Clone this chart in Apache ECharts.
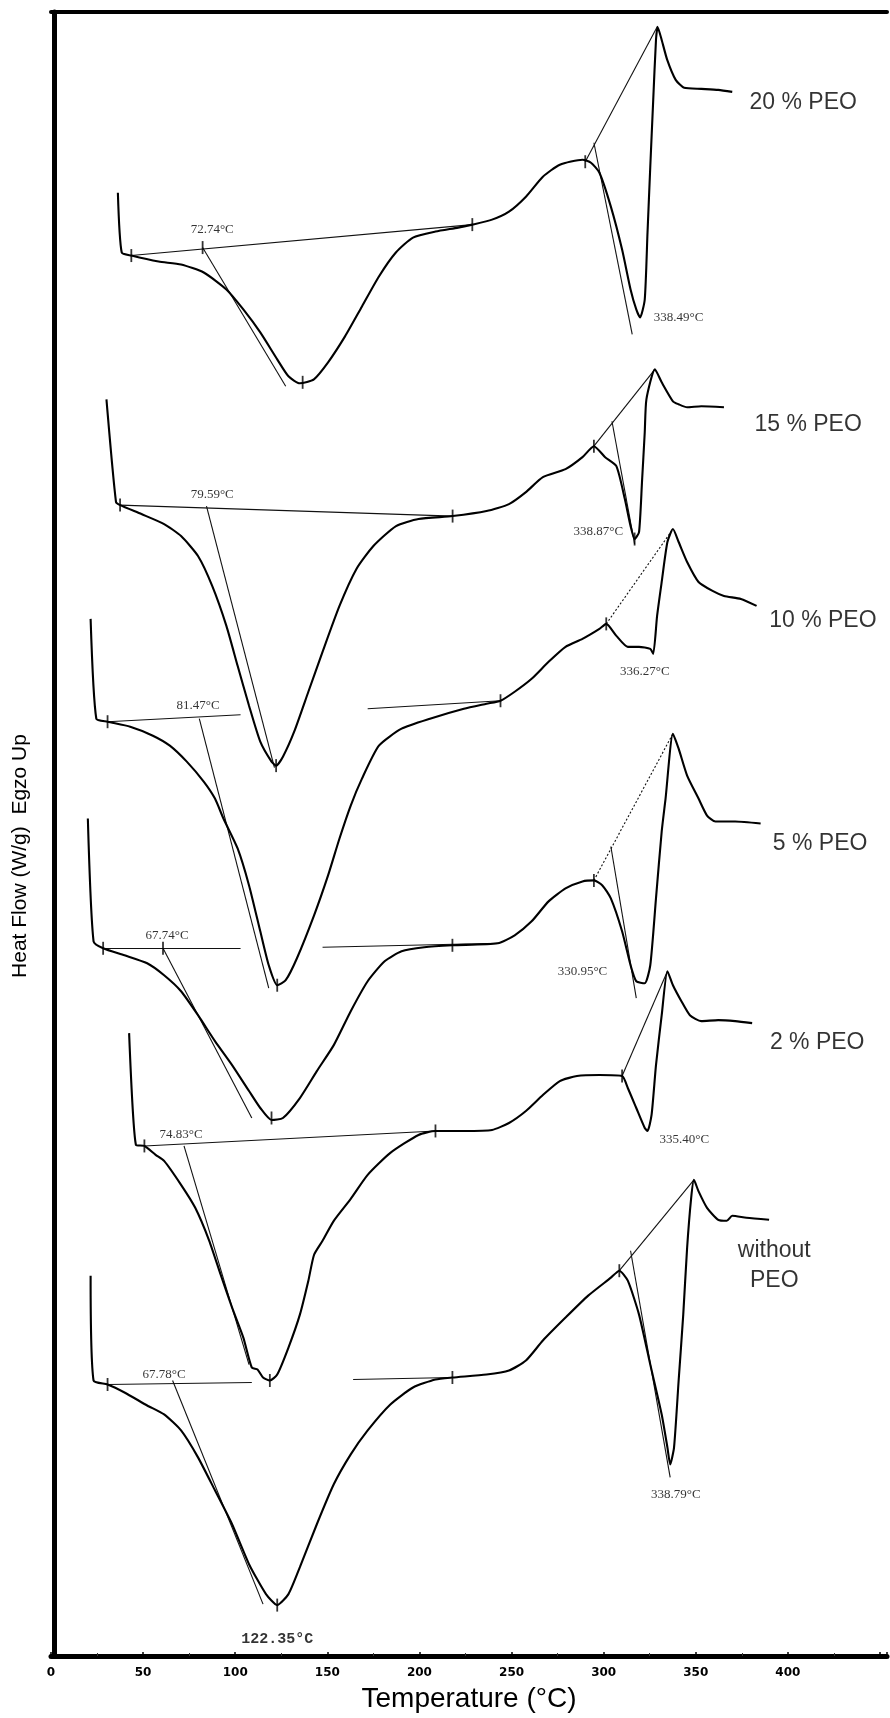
<!DOCTYPE html>
<html>
<head>
<meta charset="utf-8">
<title>DSC - PEO</title>
<script src="https://cdn.jsdelivr.net/npm/echarts/dist/echarts.min.js"></script>
<style>
  html, body { margin: 0; padding: 0; background: #fff; }
  #main { width: 890px; height: 1718px; }
</style>
</head>
<body>
<div id="main"></div>
<script>
// x = temperature (°C), y = heat flow (arbitrary units, curves stacked)
const tickLabels = [0, 50, 100, 150, 200, 250, 300, 350, 400];

const peo20 = [[36.3,146.6],[38.4,140.6],[43.6,140.3],[58.4,139.7],[70.6,139.4],[82.9,138.6],[95.2,136.9],[104.4,134.9],[113.6,132.6],[122.8,129.9],[128.9,128.2],[135.1,127.5],[142.7,127.9],[150.4,129.6],[159.6,132.2],[168.8,135.2],[178.0,138.2],[187.2,140.6],[196.5,142.1],[208.7,142.7],[221.0,143.1],[228.7,143.4],[239.4,143.9],[248.6,144.7],[257.8,146.2],[267.0,148.2],[276.2,149.4],[288.5,149.9],[293.1,149.6],[297.7,148.6],[303.9,145.2],[310.0,140.9],[314.6,136.9],[317.7,134.9],[319.8,134.1],[322.3,135.9],[323.8,142.6],[325.3,149.2],[326.9,155.9],[328.4,161.9],[329.3,163.2],[331.5,161.9],[334.5,159.9],[339.1,157.9],[343.7,157.1],[353.0,157.0],[362.2,156.9],[369.8,156.7]];

const peo15 = [[30.1,125.9],[35.3,115.6],[37.5,115.3],[49.1,114.4],[61.4,113.4],[70.6,112.2],[79.8,110.2],[87.5,107.2],[95.2,103.2],[101.3,99.2],[107.5,95.2],[113.6,91.6],[119.7,89.6],[122.2,89.2],[125.9,90.1],[132.0,92.6],[139.7,96.6],[147.4,100.6],[156.6,105.2],[165.8,108.9],[175.0,111.2],[187.3,113.2],[199.5,113.9],[218.0,114.2],[236.4,114.7],[248.6,115.4],[257.8,116.6],[267.0,118.1],[279.3,118.9],[288.5,120.1],[294.7,121.2],[300.8,120.1],[306.9,119.2],[311.5,115.9],[314.6,113.2],[316.8,111.9],[319.2,112.6],[320.8,117.6],[322.3,122.6],[323.2,125.9],[327.8,128.9],[331.5,127.6],[337.6,125.7],[340.7,125.4],[345.3,125.1],[353.0,125.2],[365.3,125.1]];

const peo10 = [[21.5,103.9],[24.6,93.9],[30.7,93.6],[43.0,93.1],[55.3,92.2],[64.5,91.2],[73.7,89.6],[82.9,87.6],[89.0,85.9],[93.6,83.9],[101.3,80.9],[107.5,77.2],[113.6,72.6],[118.2,69.2],[122.8,67.2],[127.4,67.7],[133.5,69.9],[142.8,74.2],[150.4,78.2],[156.6,81.9],[162.7,85.2],[168.8,87.9],[178.0,91.2],[190.3,92.9],[205.7,93.9],[224.1,94.9],[236.4,95.4],[244.0,95.7],[251.7,96.6],[260.9,97.9],[270.1,99.6],[279.3,101.1],[288.5,101.9],[297.7,102.9],[301.4,103.4],[306.9,102.2],[313.1,101.1],[319.2,101.1],[325.3,100.9],[326.9,100.4],[329.0,104.2],[331.5,107.6],[334.6,111.6],[337.6,112.9],[340.7,111.6],[345.3,109.6],[351.5,107.6],[359.1,106.7],[365.3,106.2],[374.5,105.9],[383.0,105.2]];

const peo5 = [[20.0,83.9],[23.1,71.6],[28.3,70.9],[39.9,70.2],[52.2,69.4],[61.4,68.2],[70.6,66.6],[79.8,64.2],[89.0,61.6],[98.3,59.2],[107.5,56.6],[113.6,54.9],[119.7,53.7],[125.9,53.9],[135.1,55.9],[144.3,58.6],[153.5,61.2],[162.7,64.6],[171.9,67.6],[181.1,69.6],[190.3,70.6],[202.6,71.0],[217.9,71.2],[242.5,71.4],[251.7,72.2],[260.9,73.6],[270.1,75.6],[279.3,76.9],[288.5,77.6],[294.7,77.7],[299.3,77.2],[303.9,75.9],[310.0,72.6],[314.6,69.2],[317.7,67.6],[322.3,67.4],[325.3,69.2],[328.4,75.9],[331.5,82.6],[333.6,85.9],[337.6,92.4],[340.7,90.9],[345.3,88.2],[351.5,85.9],[356.1,84.2],[360.7,83.6],[371.4,83.6],[385.2,83.4]];

const peo2 = [[42.4,62.4],[46.1,51.2],[50.7,51.1],[56.8,50.2],[61.4,49.6],[70.6,47.2],[78.3,44.9],[85.9,41.6],[92.1,38.2],[98.3,34.9],[104.4,31.9],[109.0,28.9],[112.1,28.7],[115.1,27.9],[118.8,27.6],[122.8,28.2],[128.9,30.9],[135.1,34.2],[139.7,37.6],[142.8,40.2],[147.4,41.6],[153.5,43.6],[162.7,45.8],[171.9,48.2],[184.2,50.4],[199.5,52.2],[208.7,52.6],[224.1,52.6],[239.4,52.7],[248.6,53.4],[257.8,54.6],[267.0,56.2],[276.2,57.6],[285.5,58.1],[297.7,58.2],[310.0,58.1],[313.1,56.9],[317.7,54.9],[322.3,52.9],[323.8,52.6],[326.0,54.2],[328.4,59.2],[331.5,64.2],[334.6,68.6],[337.6,67.2],[342.2,65.6],[346.8,64.2],[353.0,63.6],[362.2,63.7],[371.4,63.6],[380.6,63.4]];

const peo0 = [[21.5,38.1],[23.1,27.6],[30.7,27.2],[39.9,26.4],[52.2,25.1],[61.4,24.2],[70.6,22.6],[79.8,19.9],[89.0,16.6],[98.3,13.2],[107.5,9.2],[116.7,6.2],[122.8,5.1],[128.9,6.2],[135.1,8.9],[144.3,13.2],[153.5,17.2],[162.7,20.2],[171.9,22.6],[184.2,25.2],[196.5,26.9],[208.7,27.7],[217.9,27.9],[236.4,28.2],[248.6,28.6],[257.8,29.6],[267.0,31.6],[279.3,33.9],[291.6,36.1],[303.9,37.9],[308.5,38.6],[313.1,37.6],[319.2,34.2],[325.3,29.2],[331.5,24.2],[334.6,20.9],[336.1,19.2],[338.2,20.9],[340.7,27.6],[343.2,34.2],[345.3,40.9],[347.5,45.9],[349.0,47.7],[351.4,46.6],[356.1,44.9],[362.2,43.7],[366.8,43.6],[369.8,44.1],[377.5,43.9],[389.8,43.7]];

// baselines and tangent construction lines
const guides20 = [[[43.6,140.3],[228.7,143.4]], [[82.3,141.1],[127.4,127.2]], [[290.0,149.7],[329.3,163.3]], [[294.7,151.6],[315.5,132.4]]];
const guides15 = [[[37.5,115.3],[218.0,114.2]], [[84.4,115.2],[121.3,89.0]], [[294.7,121.2],[327.8,128.9]], [[304.5,123.7],[316.8,111.4]]];
const guides10 = [[[30.7,93.6],[102.9,94.3]], [[171.9,94.9],[244.0,95.7]], [[80.5,93.9],[118.2,66.9]]];
const guides5 = [[[28.3,70.9],[102.9,70.9]], [[147.4,71.0],[242.5,71.4]], [[60.8,70.9],[109.0,53.9]], [[303.9,81.1],[317.7,65.9]]];
const guides2 = [[[50.7,51.1],[208.7,52.6]], [[72.2,51.1],[107.5,29.2]], [[310.0,58.1],[334.6,68.6]]];
const guides0 = [[[30.7,27.2],[109.0,27.4]], [[164.0,27.7],[217.9,27.9]], [[66.0,27.6],[115.1,5.2]], [[308.5,38.6],[349.0,47.7]], [[314.6,40.6],[336.1,17.9]]];
const dottedGuides = [[[301.4,103.4],[337.6,112.9]], [[294.7,77.7],[337.6,92.4]]];

const crossMarks = [[43.6,140.3],[82.3,141.1],[136.6,127.6],[228.7,143.4],[290.0,149.7],
  [37.5,115.3],[122.2,89.2],[218.0,114.2],[294.7,121.2],[316.8,111.9],
  [30.7,93.6],[122.8,67.2],[244.0,95.7],[301.4,103.4],
  [28.3,70.9],[60.8,70.9],[119.7,53.9],[217.9,71.2],[294.7,77.7],
  [50.7,51.1],[118.8,27.6],[208.7,52.6],[310.0,58.1],
  [30.7,27.2],[122.8,5.1],[217.9,27.9],[308.5,38.6]];

const peakLabels = ['72.74°C', '338.49°C', '79.59°C', '338.87°C', '81.47°C', '336.27°C', '67.74°C', '330.95°C', '74.83°C', '335.40°C', '67.78°C', '338.79°C'];
const peakLabelPos = [[87.5,142.9],[340.7,134.1],[87.5,116.4],[297.1,112.6],[79.8,95.2],[322.3,98.6],[63.0,72.2],[288.5,68.6],[70.6,52.2],[343.8,51.7],[61.4,28.2],[339.2,16.2]];

const sampleNames = ['20 % PEO', '15 % PEO', '10 % PEO', '5 % PEO', '2 % PEO', 'without\nPEO'];
const samplePos = [[408.3,155.6],[411.0,123.4],[419.0,103.7],[417.5,81.4],[415.9,61.4],[392.6,39.1]];

let chart = echarts.init(document.getElementById('main'));

let curves = [peo20, peo15, peo10, peo5, peo2, peo0];
let series = curves.map(function (d, i) {
  return {
    name: sampleNames[i],
    type: 'line',
    data: d,
    showSymbol: false,
    smooth: 0.2,
    silent: true,
    lineStyle: { color: '#000', width: 2.1 }
  };
});

let guideData = [].concat(guides20, guides15, guides10, guides5, guides2, guides0).map(function (c) {
  return { coords: c };
});
dottedGuides.forEach(function (c) {
  guideData.push({ coords: c, lineStyle: { type: [2, 2] } });
});

series.push({
  type: 'lines',
  coordinateSystem: 'cartesian2d',
  data: guideData,
  silent: true,
  lineStyle: { color: '#111', width: 1.1, opacity: 1 }
});

series.push({
  type: 'scatter',
  data: crossMarks,
  symbol: 'rect',
  symbolSize: [1.8, 13],
  silent: true,
  itemStyle: { color: '#000' }
});

series.push({
  type: 'scatter',
  symbolSize: 0,
  silent: true,
  data: peakLabels.map(function (t, i) { return { name: t, value: peakLabelPos[i] }; }),
  label: {
    show: true,
    position: [0, 0],
    align: 'center',
    verticalAlign: 'middle',
    formatter: '{b}',
    fontFamily: 'Liberation Serif',
    fontSize: 13,
    color: '#000'
  }
});

series.push({
  type: 'scatter',
  symbolSize: 0,
  silent: true,
  data: [{ name: '122.35°C', value: [122.8, 1.7] }],
  label: {
    show: true,
    position: [0, 0],
    align: 'center',
    verticalAlign: 'middle',
    formatter: '{b}',
    fontFamily: 'Liberation Mono',
    fontWeight: 'bold',
    fontSize: 15,
    color: '#000'
  }
});

series.push({
  type: 'scatter',
  symbolSize: 0,
  silent: true,
  data: sampleNames.map(function (t, i) { return { name: t, value: samplePos[i] }; }),
  label: {
    show: true,
    position: [0, 0],
    align: 'center',
    verticalAlign: 'middle',
    formatter: '{b}',
    fontFamily: 'Liberation Sans',
    fontSize: 23,
    lineHeight: 30,
    color: '#000'
  }
});

let option = {
  animation: false,
  backgroundColor: '#fff',
  grid: { left: 51, right: 0, top: 12, bottom: 59 },
  xAxis: [{
    type: 'value',
    min: 0,
    max: 453.8,
    interval: 50,
    name: 'Temperature (°C)',
    nameLocation: 'middle',
    nameGap: 29,
    nameTextStyle: { fontFamily: 'Liberation Sans', fontSize: 28, color: '#000' },
    axisLine: { lineStyle: { color: '#000', width: 5 } },
    axisTick: { inside: true, length: 4, lineStyle: { color: '#000', width: 1.5 } },
    minorTick: { show: true, splitNumber: 2, length: 3, lineStyle: { color: '#333' } },
    axisLabel: {
      margin: 11,
      fontFamily: 'DejaVu Sans',
      fontWeight: 'bold',
      fontSize: 12,
      color: '#000',
      formatter: function (v) { return tickLabels.indexOf(v) >= 0 ? v : ''; }
    },
    splitLine: { show: false }
  }, {
    type: 'value',
    position: 'top',
    min: 0,
    max: 453.8,
    axisLine: { show: true, lineStyle: { color: '#000', width: 4 } },
    axisTick: { show: false },
    axisLabel: { show: false },
    splitLine: { show: false }
  }],
  yAxis: {
    type: 'value',
    min: 0,
    max: 164.7,
    offset: -3,
    axisLine: { show: true, lineStyle: { color: '#000', width: 5 } },
    axisTick: { show: false },
    axisLabel: { show: false },
    splitLine: { show: false }
  },
  graphic: [{
    type: 'text',
    x: 20,
    y: 856,
    rotation: Math.PI / 2,
    style: {
      text: 'Heat Flow (W/g)  Egzo Up',
      fontFamily: 'Liberation Sans',
      fontSize: 21,
      fill: '#000',
      align: 'center',
      verticalAlign: 'middle'
    }
  }],
  series: series
};

chart.setOption(option);
</script>
</body>
</html>
